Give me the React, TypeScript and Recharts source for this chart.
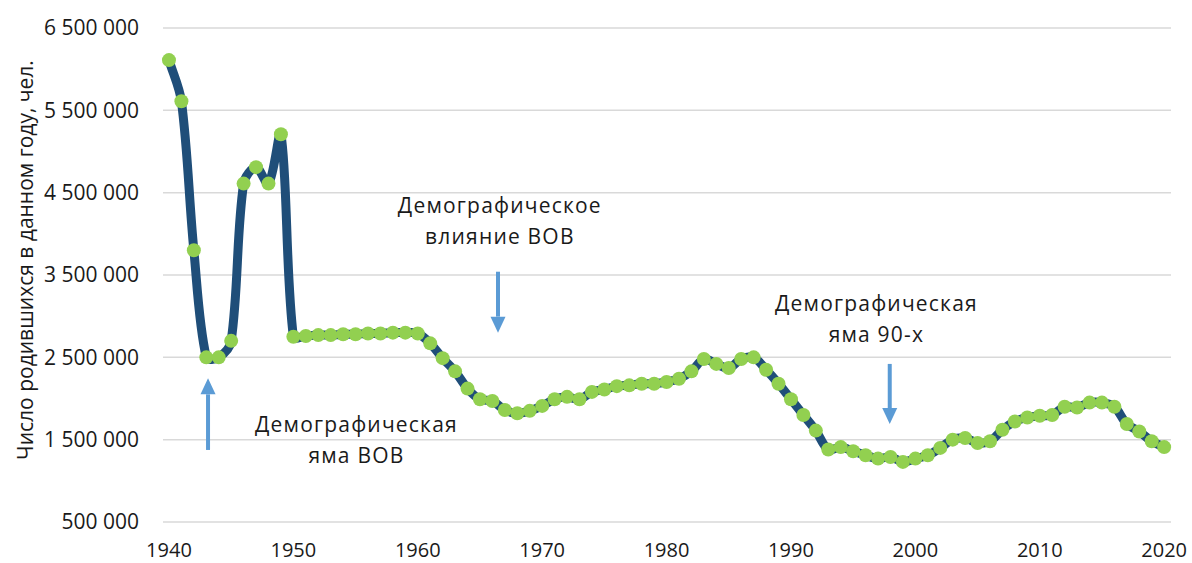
import React from 'react';
import {
  LineChart,
  Line,
  XAxis,
  YAxis,
  CartesianGrid,
  ReferenceDot,
  ReferenceLine,
} from 'recharts';

const years = [
  1940, 1941, 1942, 1943, 1944, 1945, 1946, 1947, 1948, 1949,
  1950, 1951, 1952, 1953, 1954, 1955, 1956, 1957, 1958, 1959,
  1960, 1961, 1962, 1963, 1964, 1965, 1966, 1967, 1968, 1969,
  1970, 1971, 1972, 1973, 1974, 1975, 1976, 1977, 1978, 1979,
  1980, 1981, 1982, 1983, 1984, 1985, 1986, 1987, 1988, 1989,
  1990, 1991, 1992, 1993, 1994, 1995, 1996, 1997, 1998, 1999,
  2000, 2001, 2002, 2003, 2004, 2005, 2006, 2007, 2008, 2009,
  2010, 2011, 2012, 2013, 2014, 2015, 2016, 2017, 2018, 2019,
  2020,
];

const births = [
  6110000, 5610000, 3800000, 2500000, 2500000, 2700000, 4610000, 4810000, 4610000, 5210000,
  2750000, 2760000, 2770000, 2770000, 2780000, 2780000, 2790000, 2790000, 2800000, 2800000,
  2790000, 2670000, 2490000, 2330000, 2120000, 1990000, 1970000, 1860000, 1820000, 1850000,
  1910000, 1990000, 2020000, 1990000, 2080000, 2110000, 2150000, 2160000, 2180000, 2180000,
  2200000, 2240000, 2330000, 2480000, 2420000, 2370000, 2480000, 2500000, 2350000, 2180000,
  1990000, 1800000, 1610000, 1380000, 1410000, 1360000, 1310000, 1270000, 1290000, 1230000,
  1270000, 1310000, 1400000, 1500000, 1520000, 1460000, 1480000, 1620000, 1720000, 1770000,
  1790000, 1800000, 1900000, 1890000, 1950000, 1950000, 1900000, 1690000, 1600000, 1480000,
  1410000,
];

const xTicks = [1940, 1950, 1960, 1970, 1980, 1990, 2000, 2010, 2020];
const yTicks = [500000, 1500000, 2500000, 3500000, 4500000, 5500000, 6500000];

// annotation text: anchor = centre of the first line's baseline
const notes = [
  { year: 1966.6, value: 4249000, lines: ['Демографическое', 'влияние ВОВ'] },
  { year: 1955.07, value: 1597000, lines: ['Демографическая', 'яма ВОВ'] },
  { year: 1996.87, value: 3066000, lines: ['Демографическая', 'яма 90-х'] },
];

// arrows: from -> to (tip)
const arrows = [
  { year: 1966.45, from: 3540000, to: 2800000 },
  { year: 1943.14, from: 1375000, to: 2245000 },
  { year: 1997.94, from: 2420000, to: 1690000 },
];

const data = years.map((year, i) => ({ year, births: births[i] }));

const FONT = '"Open Sans", "Noto Sans", sans-serif';
const TEXT = '#1a1a1a';

const fmt = (v: number) => String(v).replace(/\B(?=(\d{3})+(?!\d))/g, ' ');

// Excel-like smoothing: tangent split in proportion to neighbouring segment lengths
function excelCurve(context: any) {
  let pts: number[][] = [];
  const t = 1 / 3;
  return {
    areaStart() {},
    areaEnd() {},
    lineStart() {
      pts = [];
    },
    point(x: number, y: number) {
      pts.push([+x, +y]);
    },
    lineEnd() {
      const n = pts.length;
      if (!n) return;
      const dist = (a: number[], b: number[]) => Math.hypot(b[0] - a[0], b[1] - a[1]);
      // control points around each point: [in, out]
      const ctrl = pts.map((p1, i) => {
        const p0 = pts[i - 1] || p1;
        const p2 = pts[i + 1] || p1;
        const d01 = dist(p0, p1);
        const d12 = dist(p1, p2);
        const s = d01 + d12 || 1;
        const tx = p2[0] - p0[0];
        const ty = p2[1] - p0[1];
        return {
          inn: [p1[0] - (tx * d01 * t) / s, p1[1] - (ty * d01 * t) / s],
          out: [p1[0] + (tx * d12 * t) / s, p1[1] + (ty * d12 * t) / s],
        };
      });
      context.moveTo(pts[0][0], pts[0][1]);
      for (let i = 0; i < n - 1; i++) {
        const a = ctrl[i].out;
        const b = ctrl[i + 1].inn;
        context.bezierCurveTo(a[0], a[1], b[0], b[1], pts[i + 1][0], pts[i + 1][1]);
      }
    },
  };
}

const NoteText = (lines: string[]) => (props: any) => (
  <text
    x={props.cx}
    y={props.cy}
    textAnchor="middle"
    fontFamily={FONT}
    fontSize={21}
    letterSpacing={1.2}
    fill={TEXT}
  >
    {lines.map((l, i) => (
      <tspan key={i} x={props.cx} dy={i === 0 ? 0 : 31}>
        {l}
      </tspan>
    ))}
  </text>
);

const Arrow = (props: any) => {
  const { x1, y1, x2, y2 } = props;
  const dir = y2 > y1 ? 1 : -1;
  const head = 16;
  const half = 7.5;
  const base = y2 - dir * head;
  return (
    <g>
      <line x1={x1} y1={y1} x2={x2} y2={base} stroke="#5B9BD5" strokeWidth={4} />
      <polygon points={`${x2 - half},${base} ${x2 + half},${base} ${x2},${y2}`} fill="#5B9BD5" />
    </g>
  );
};

const YTitle = (props: any) => {
  const vb = props.viewBox || { x: 0, y: 28, width: 163, height: 494 };
  const cx = vb.x + 25;
  const cy = vb.y + vb.height / 2 - 15;
  return (
    <text
      x={cx}
      y={cy}
      transform={`rotate(-90, ${cx}, ${cy})`}
      textAnchor="middle"
      dominantBaseline="central"
      fontFamily={FONT}
      fontSize={21}
      fill={TEXT}
    >
      Число родившихся в данном году, чел.
    </text>
  );
};

export default function App() {
  return (
    <div>
      <style>{'body{margin:0}'}</style>
      <LineChart
        width={1192}
        height={563}
        data={data}
        margin={{ top: 28, right: 21, bottom: 0, left: 0 }}
      >
        <CartesianGrid vertical={false} stroke="#d9d9d9" strokeWidth={1.5} />
        <XAxis
          dataKey="year"
          type="number"
          domain={[1939.52, 2020.55]}
          ticks={xTicks}
          interval={0}
          axisLine={false}
          tickLine={false}
          height={41}
          tickMargin={15}
          tick={{ fontFamily: FONT, fontSize: 20, fill: TEXT }}
        />
        <YAxis
          type="number"
          domain={[500000, 6500000]}
          ticks={yTicks}
          interval={0}
          width={163}
          axisLine={false}
          tickLine={false}
          tickMargin={18}
          tickFormatter={fmt}
          tick={{ fontFamily: FONT, fontSize: 21, fill: TEXT }}
          label={{ content: (p: any) => <YTitle {...p} /> }}
        />
        <Line
          dataKey="births"
          type={excelCurve as any}
          stroke="#1F4E79"
          strokeWidth={9}
          dot={{ r: 7, fill: '#92D050', stroke: 'none', strokeWidth: 0 }}
          activeDot={false}
          isAnimationActive={false}
        />
        {arrows.map((a, i) => (
          <ReferenceLine
            key={'a' + i}
            segment={[
              { x: a.year, y: a.from },
              { x: a.year, y: a.to },
            ]}
            shape={Arrow}
          />
        ))}
        {notes.map((n, i) => (
          <ReferenceDot
            key={'n' + i}
            x={n.year}
            y={n.value}
            r={0}
            shape={NoteText(n.lines)}
          />
        ))}
      </LineChart>
    </div>
  );
}
